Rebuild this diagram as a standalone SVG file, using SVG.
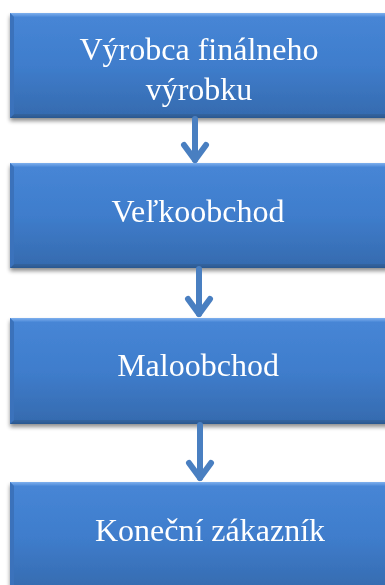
<svg xmlns="http://www.w3.org/2000/svg" width="385" height="585" viewBox="0 0 385 585">
  <defs>
    <linearGradient id="boxFill" x1="0" y1="0" x2="0" y2="1">
      <stop offset="0" stop-color="#4786d6"/>
      <stop offset="0.5" stop-color="#3f7dcc"/>
      <stop offset="1" stop-color="#356aae"/>
    </linearGradient>
    <linearGradient id="bevelTop" x1="0" y1="0" x2="0" y2="1">
      <stop offset="0" stop-color="#7fb0ee"/>
      <stop offset="1" stop-color="#4a88d8"/>
    </linearGradient>
    <linearGradient id="bevelBottom" x1="0" y1="0" x2="0" y2="1">
      <stop offset="0" stop-color="#33649f"/>
      <stop offset="1" stop-color="#2b5890"/>
    </linearGradient>
    <filter id="shadow" x="-10%" y="-10%" width="130%" height="140%">
      <feGaussianBlur in="SourceAlpha" stdDeviation="2.2"/>
      <feOffset dx="0" dy="3" result="b"/>
      <feComponentTransfer><feFuncA type="linear" slope="0.45"/></feComponentTransfer>
      <feMerge><feMergeNode/><feMergeNode in="SourceGraphic"/></feMerge>
    </filter>
    <filter id="soft" x="-20%" y="-20%" width="140%" height="140%">
      <feGaussianBlur stdDeviation="0.6"/>
    </filter>
  </defs>
  <style>
    .label { font-family: "Liberation Serif", "Times New Roman", serif; font-size: 32px; fill: #ffffff; text-anchor: middle; }
    .conn { stroke: #4a7fc1; stroke-width: 6; fill: none; stroke-linecap: round; stroke-linejoin: round; }
  </style>

  <!-- node 1 -->
  <g id="node-vyrobca" filter="url(#shadow)">
    <rect x="10" y="13" width="380" height="105" fill="url(#boxFill)"/>
    <polygon points="10,13 390,13 390,17 14,17" fill="url(#bevelTop)"/>
    <polygon points="10,118 390,118 390,114 14,114" fill="url(#bevelBottom)"/>
    <polygon points="10,13 14,17 14,114 10,118" fill="#3a72bb"/>
    <text class="label" x="199" y="60">Výrobca finálneho</text>
    <text class="label" x="199" y="100">výrobku</text>
  </g>

  <!-- node 2 -->
  <g id="node-velkoobchod" filter="url(#shadow)">
    <rect x="10" y="163" width="380" height="105" fill="url(#boxFill)"/>
    <polygon points="10,163 390,163 390,167 14,167" fill="url(#bevelTop)"/>
    <polygon points="10,268 390,268 390,264 14,264" fill="url(#bevelBottom)"/>
    <polygon points="10,163 14,167 14,264 10,268" fill="#3a72bb"/>
    <text class="label" x="198" y="222">Veľkoobchod</text>
  </g>

  <!-- node 3 -->
  <g id="node-maloobchod" filter="url(#shadow)">
    <rect x="10" y="318" width="380" height="106" fill="url(#boxFill)"/>
    <polygon points="10,318 390,318 390,322 14,322" fill="url(#bevelTop)"/>
    <polygon points="10,424 390,424 390,420 14,420" fill="url(#bevelBottom)"/>
    <polygon points="10,318 14,322 14,420 10,424" fill="#3a72bb"/>
    <text class="label" x="198" y="376">Maloobchod</text>
  </g>

  <!-- node 4 -->
  <g id="node-zakaznik" filter="url(#shadow)">
    <rect x="10" y="482" width="380" height="110" fill="url(#boxFill)"/>
    <polygon points="10,482 390,482 390,486 14,486" fill="url(#bevelTop)"/>
    <polygon points="10,482 14,486 14,592 10,592" fill="#3a72bb"/>
    <text class="label" x="210" y="541">Koneční zákazník</text>
  </g>

  <!-- connectors -->
  <g id="connectors" filter="url(#soft)">
    <path class="conn" d="M195,119 V160"/>
    <path class="conn" d="M184,145 L195,160 L206,145"/>
    <path class="conn" d="M199,269 V314"/>
    <path class="conn" d="M188,299 L199,314 L210,299"/>
    <path class="conn" d="M200,425 V478"/>
    <path class="conn" d="M189,463 L200,478 L211,463"/>
  </g>
</svg>
